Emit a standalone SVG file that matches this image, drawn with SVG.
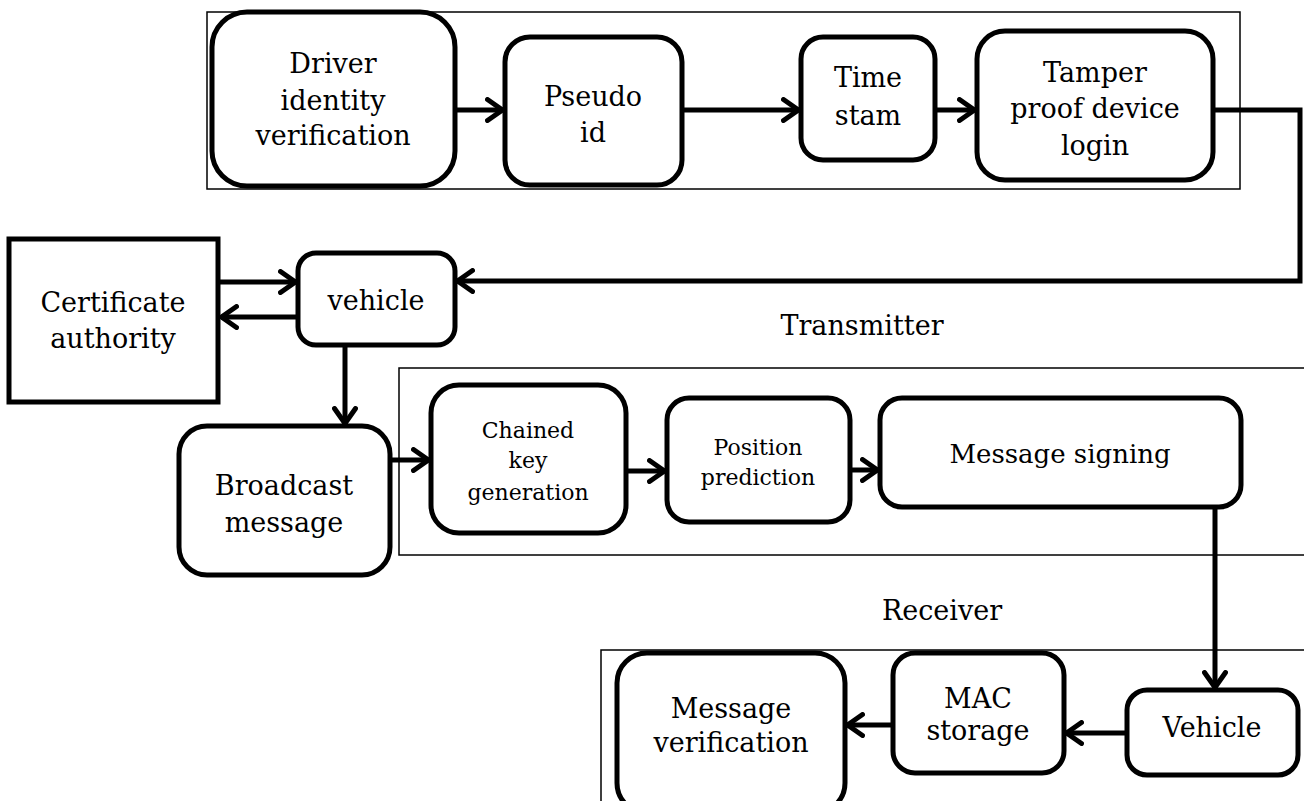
<svg xmlns="http://www.w3.org/2000/svg" width="1304" height="801" viewBox="0 0 1304 801">
  <style>
    .frame { fill: none; stroke: #000; stroke-width: 1.5; }
    .box { fill: #fff; stroke: #000; stroke-width: 5; }
    .link { fill: none; stroke: #000; stroke-width: 5; stroke-linejoin: miter; }
    text { font-family: "DejaVu Serif", "Liberation Serif", serif; fill: #000; text-anchor: middle; }
    .t27 { font-size: 27px; }
    .t26 { font-size: 26px; }
    .t22 { font-size: 22px; }
  </style>
  <defs>
    <marker id="arrow" viewBox="0 0 20 26" refX="18" refY="13" markerWidth="20" markerHeight="26" markerUnits="userSpaceOnUse" orient="auto">
      <path d="M2.5,2.5 L17.5,13 L2.5,23.5" fill="none" stroke="#000" stroke-width="5" stroke-linecap="round" stroke-linejoin="miter"/>
    </marker>
  </defs>
  <rect width="1304" height="801" fill="#fff"/>

  <!-- stage frames -->
  <g id="frames">
    <rect class="frame" x="207" y="12" width="1033" height="177"/>
    <rect class="frame" x="399" y="368" width="1000" height="187"/>
    <rect class="frame" x="601" y="650" width="800" height="200"/>
  </g>

  <!-- connectors -->
  <g id="connectors">
    <line class="link" x1="455" y1="110" x2="503" y2="110" marker-end="url(#arrow)"/>
    <line class="link" x1="682" y1="110" x2="799" y2="110" marker-end="url(#arrow)"/>
    <line class="link" x1="935" y1="110" x2="975" y2="110" marker-end="url(#arrow)"/>
    <polyline class="link" points="1213,110 1300,110 1300,281 457,281" marker-end="url(#arrow)"/>
    <line class="link" x1="218" y1="282" x2="296" y2="282" marker-end="url(#arrow)"/>
    <line class="link" x1="298" y1="317" x2="221" y2="317" marker-end="url(#arrow)"/>
    <line class="link" x1="345" y1="345" x2="345" y2="424" marker-end="url(#arrow)"/>
    <line class="link" x1="390" y1="460" x2="429" y2="460" marker-end="url(#arrow)"/>
    <line class="link" x1="626" y1="471" x2="665" y2="471" marker-end="url(#arrow)"/>
    <line class="link" x1="850" y1="470" x2="878" y2="470" marker-end="url(#arrow)"/>
    <line class="link" x1="1215" y1="507" x2="1215" y2="688" marker-end="url(#arrow)"/>
    <line class="link" x1="1127" y1="733" x2="1066" y2="733" marker-end="url(#arrow)"/>
    <line class="link" x1="893" y1="725" x2="847" y2="725" marker-end="url(#arrow)"/>
  </g>

  <g id="driver-identity">
    <rect class="box" x="212" y="12" width="243" height="174" rx="35"/>
    <text class="t27" x="333" y="73">Driver</text>
    <text class="t27" x="333" y="110">identity</text>
    <text class="t27" x="333" y="145">verification</text>
  </g>
  <g id="pseudo-id">
    <rect class="box" x="505" y="37" width="177" height="148" rx="25"/>
    <text class="t27" x="593" y="106">Pseudo</text>
    <text class="t27" x="593" y="142">id</text>
  </g>
  <g id="time-stam">
    <rect class="box" x="801" y="37" width="134" height="123" rx="22"/>
    <text class="t27" x="868" y="87">Time</text>
    <text class="t27" x="868" y="125">stam</text>
  </g>
  <g id="tamper-proof">
    <rect class="box" x="977" y="31" width="236" height="149" rx="28"/>
    <text class="t27" x="1095" y="82">Tamper</text>
    <text class="t27" x="1095" y="118">proof device</text>
    <text class="t27" x="1095" y="155">login</text>
  </g>

  <g id="certificate-authority">
    <rect class="box" x="9" y="239" width="209" height="163"/>
    <text class="t27" x="113" y="312">Certificate</text>
    <text class="t27" x="113" y="348">authority</text>
  </g>
  <g id="vehicle-tx">
    <rect class="box" x="298" y="253" width="157" height="92" rx="18"/>
    <text class="t27" x="376" y="310">vehicle</text>
  </g>
  <g id="broadcast-message">
    <rect class="box" x="179" y="426" width="211" height="149" rx="28"/>
    <text class="t27" x="284" y="495">Broadcast</text>
    <text class="t27" x="284" y="532">message</text>
  </g>

  <g id="label-transmitter">
    <text class="t27" x="862" y="335">Transmitter</text>
  </g>

  <g id="chained-key">
    <rect class="box" x="431" y="385" width="195" height="148" rx="28"/>
    <text class="t22" x="528" y="438">Chained</text>
    <text class="t22" x="528" y="468">key</text>
    <text class="t22" x="528" y="500">generation</text>
  </g>
  <g id="position-prediction">
    <rect class="box" x="667" y="398" width="183" height="124" rx="22"/>
    <text class="t22" x="758" y="455">Position</text>
    <text class="t22" x="758" y="485">prediction</text>
  </g>
  <g id="message-signing">
    <rect class="box" x="880" y="398" width="361" height="109" rx="22"/>
    <text class="t26" x="1060" y="463">Message signing</text>
  </g>

  <g id="label-receiver">
    <text class="t27" x="942" y="620">Receiver</text>
  </g>

  <g id="message-verification">
    <rect class="box" x="617" y="653" width="228" height="160" rx="30"/>
    <text class="t27" x="731" y="718">Message</text>
    <text class="t27" x="731" y="752">verification</text>
  </g>
  <g id="mac-storage">
    <rect class="box" x="893" y="653" width="171" height="120" rx="22"/>
    <text class="t27" x="978" y="708">MAC</text>
    <text class="t27" x="978" y="740">storage</text>
  </g>
  <g id="vehicle-rx">
    <rect class="box" x="1127" y="690" width="171" height="85" rx="20"/>
    <text class="t27" x="1212" y="737">Vehicle</text>
  </g>
</svg>
